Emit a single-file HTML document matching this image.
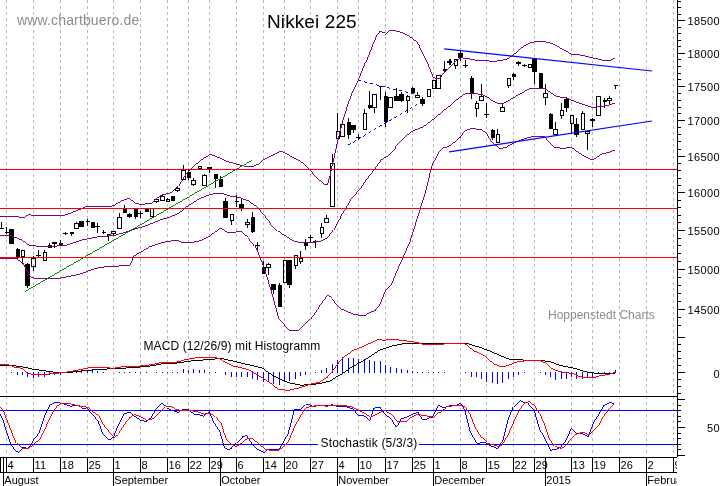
<!DOCTYPE html>
<html><head><meta charset="utf-8"><title>Nikkei 225</title>
<style>
html,body{margin:0;padding:0;background:#fff;}
svg{display:block;font-family:"Liberation Sans",sans-serif;}
</style></head>
<body>
<svg width="723" height="486" viewBox="0 0 723 486" shape-rendering="crispEdges">
<defs><clipPath id="dc"><rect x="0" y="456" width="677" height="30"/></clipPath></defs>
<rect x="0" y="0" width="723" height="486" fill="#fff"/>
<line x1="6.5" y1="0" x2="6.5" y2="456" stroke="#b8b8b8" stroke-width="1" stroke-dasharray="3,3"/>
<line x1="33.5" y1="0" x2="33.5" y2="456" stroke="#b8b8b8" stroke-width="1" stroke-dasharray="3,3"/>
<line x1="60.5" y1="0" x2="60.5" y2="456" stroke="#b8b8b8" stroke-width="1" stroke-dasharray="3,3"/>
<line x1="87.5" y1="0" x2="87.5" y2="456" stroke="#b8b8b8" stroke-width="1" stroke-dasharray="3,3"/>
<line x1="113.5" y1="0" x2="113.5" y2="456" stroke="#b8b8b8" stroke-width="1" stroke-dasharray="3,3"/>
<line x1="140.5" y1="0" x2="140.5" y2="456" stroke="#b8b8b8" stroke-width="1" stroke-dasharray="3,3"/>
<line x1="167.5" y1="0" x2="167.5" y2="456" stroke="#b8b8b8" stroke-width="1" stroke-dasharray="3,3"/>
<line x1="188.5" y1="0" x2="188.5" y2="456" stroke="#b8b8b8" stroke-width="1" stroke-dasharray="3,3"/>
<line x1="209.5" y1="0" x2="209.5" y2="456" stroke="#b8b8b8" stroke-width="1" stroke-dasharray="3,3"/>
<line x1="236.5" y1="0" x2="236.5" y2="456" stroke="#b8b8b8" stroke-width="1" stroke-dasharray="3,3"/>
<line x1="263.5" y1="0" x2="263.5" y2="456" stroke="#b8b8b8" stroke-width="1" stroke-dasharray="3,3"/>
<line x1="284.5" y1="0" x2="284.5" y2="456" stroke="#b8b8b8" stroke-width="1" stroke-dasharray="3,3"/>
<line x1="310.5" y1="0" x2="310.5" y2="456" stroke="#b8b8b8" stroke-width="1" stroke-dasharray="3,3"/>
<line x1="337.5" y1="0" x2="337.5" y2="456" stroke="#b8b8b8" stroke-width="1" stroke-dasharray="3,3"/>
<line x1="358.5" y1="0" x2="358.5" y2="456" stroke="#b8b8b8" stroke-width="1" stroke-dasharray="3,3"/>
<line x1="385.5" y1="0" x2="385.5" y2="456" stroke="#b8b8b8" stroke-width="1" stroke-dasharray="3,3"/>
<line x1="412.5" y1="0" x2="412.5" y2="456" stroke="#b8b8b8" stroke-width="1" stroke-dasharray="3,3"/>
<line x1="433.5" y1="0" x2="433.5" y2="456" stroke="#b8b8b8" stroke-width="1" stroke-dasharray="3,3"/>
<line x1="460.5" y1="0" x2="460.5" y2="456" stroke="#b8b8b8" stroke-width="1" stroke-dasharray="3,3"/>
<line x1="486.5" y1="0" x2="486.5" y2="456" stroke="#b8b8b8" stroke-width="1" stroke-dasharray="3,3"/>
<line x1="513.5" y1="0" x2="513.5" y2="456" stroke="#b8b8b8" stroke-width="1" stroke-dasharray="3,3"/>
<line x1="534.5" y1="0" x2="534.5" y2="456" stroke="#b8b8b8" stroke-width="1" stroke-dasharray="3,3"/>
<line x1="571.5" y1="0" x2="571.5" y2="456" stroke="#b8b8b8" stroke-width="1" stroke-dasharray="3,3"/>
<line x1="592.5" y1="0" x2="592.5" y2="456" stroke="#b8b8b8" stroke-width="1" stroke-dasharray="3,3"/>
<line x1="619.5" y1="0" x2="619.5" y2="456" stroke="#b8b8b8" stroke-width="1" stroke-dasharray="3,3"/>
<line x1="646.5" y1="0" x2="646.5" y2="456" stroke="#b8b8b8" stroke-width="1" stroke-dasharray="3,3"/>
<line x1="673.5" y1="0" x2="673.5" y2="456" stroke="#b8b8b8" stroke-width="1" stroke-dasharray="3,3"/>
<rect x="1" y="222" width="1" height="7" fill="#000"/>
<rect x="0" y="228" width="4" height="1" fill="#000"/>
<rect x="6" y="227" width="1" height="7" fill="#000"/>
<rect x="5" y="232" width="4" height="1" fill="#000"/>
<rect x="11" y="229" width="1" height="15" fill="#000"/>
<rect x="9" y="229" width="5" height="15" fill="#000"/>
<rect x="17" y="248" width="1" height="12" fill="#000"/>
<rect x="16" y="249" width="4" height="8" fill="#000"/>
<rect x="22" y="257" width="1" height="7" fill="#000"/>
<rect x="21.5" y="250.5" width="3" height="6" fill="none" stroke="#000" stroke-width="1"/>
<rect x="27" y="263" width="1" height="25" fill="#000"/>
<rect x="25" y="264" width="5" height="22" fill="#000"/>
<rect x="33" y="256" width="1" height="2" fill="#000"/>
<rect x="33" y="267" width="1" height="4" fill="#000"/>
<rect x="31.5" y="258.5" width="4" height="8" fill="none" stroke="#000" stroke-width="1"/>
<rect x="38" y="250" width="1" height="7" fill="#000"/>
<rect x="36" y="255" width="5" height="1" fill="#000"/>
<rect x="44" y="250" width="1" height="2" fill="#000"/>
<rect x="43.5" y="252.5" width="3" height="8" fill="none" stroke="#000" stroke-width="1"/>
<rect x="49" y="243" width="1" height="2" fill="#000"/>
<rect x="48.5" y="245.5" width="3" height="2" fill="none" stroke="#000" stroke-width="1"/>
<rect x="54" y="242" width="1" height="6" fill="#000"/>
<rect x="52" y="242" width="5" height="2" fill="#000"/>
<rect x="60" y="240" width="1" height="5" fill="#000"/>
<rect x="59" y="243" width="4" height="2" fill="#000"/>
<rect x="65" y="232" width="1" height="3" fill="#000"/>
<rect x="63" y="233" width="5" height="1" fill="#000"/>
<rect x="71" y="232" width="1" height="4" fill="#000"/>
<rect x="70" y="232" width="4" height="2" fill="#000"/>
<rect x="76" y="222" width="1" height="1" fill="#000"/>
<rect x="74.5" y="223.5" width="4" height="5" fill="none" stroke="#000" stroke-width="1"/>
<rect x="81" y="221" width="1" height="6" fill="#000"/>
<rect x="79" y="221" width="5" height="6" fill="#000"/>
<rect x="87" y="219" width="1" height="7" fill="#000"/>
<rect x="86" y="221" width="4" height="1" fill="#000"/>
<rect x="92" y="222" width="1" height="6" fill="#000"/>
<rect x="91" y="222" width="4" height="6" fill="#000"/>
<rect x="97" y="223" width="1" height="10" fill="#000"/>
<rect x="95" y="226" width="5" height="1" fill="#000"/>
<rect x="103" y="230" width="1" height="4" fill="#000"/>
<rect x="102" y="232" width="4" height="1" fill="#000"/>
<rect x="108" y="234" width="1" height="7" fill="#000"/>
<rect x="107" y="234" width="4" height="2" fill="#000"/>
<rect x="113" y="234" width="1" height="2" fill="#000"/>
<rect x="111.5" y="231.5" width="4" height="2" fill="none" stroke="#000" stroke-width="1"/>
<rect x="119" y="213" width="1" height="4" fill="#000"/>
<rect x="117.5" y="217.5" width="4" height="11" fill="none" stroke="#000" stroke-width="1"/>
<rect x="124" y="205" width="1" height="8" fill="#000"/>
<rect x="123" y="209" width="4" height="4" fill="#000"/>
<rect x="129" y="213" width="1" height="5" fill="#000"/>
<rect x="127" y="214" width="5" height="3" fill="#000"/>
<rect x="135" y="209" width="1" height="10" fill="#000"/>
<rect x="134" y="209" width="4" height="8" fill="#000"/>
<rect x="140" y="211" width="1" height="7" fill="#000"/>
<rect x="138" y="213" width="5" height="1" fill="#000"/>
<rect x="146" y="209" width="1" height="3" fill="#000"/>
<rect x="145" y="209" width="4" height="3" fill="#000"/>
<rect x="150.5" y="208.5" width="3" height="8" fill="none" stroke="#000" stroke-width="1"/>
<rect x="156" y="198" width="1" height="1" fill="#000"/>
<rect x="156" y="202" width="1" height="1" fill="#000"/>
<rect x="154.5" y="199.5" width="4" height="2" fill="none" stroke="#000" stroke-width="1"/>
<rect x="162" y="194" width="1" height="2" fill="#000"/>
<rect x="160.5" y="196.5" width="4" height="4" fill="none" stroke="#000" stroke-width="1"/>
<rect x="167" y="198" width="1" height="1" fill="#000"/>
<rect x="166.5" y="199.5" width="3" height="2" fill="none" stroke="#000" stroke-width="1"/>
<rect x="172" y="196" width="1" height="5" fill="#000"/>
<rect x="171" y="196" width="4" height="5" fill="#000"/>
<rect x="177" y="187" width="1" height="1" fill="#000"/>
<rect x="177" y="191" width="1" height="1" fill="#000"/>
<rect x="175.5" y="188.5" width="4" height="2" fill="none" stroke="#000" stroke-width="1"/>
<rect x="183" y="165" width="1" height="5" fill="#000"/>
<rect x="181.5" y="170.5" width="4" height="9" fill="none" stroke="#000" stroke-width="1"/>
<rect x="188" y="170" width="1" height="10" fill="#000"/>
<rect x="187" y="172" width="4" height="6" fill="#000"/>
<rect x="193" y="178" width="1" height="2" fill="#000"/>
<rect x="193" y="185" width="1" height="1" fill="#000"/>
<rect x="191.5" y="180.5" width="4" height="4" fill="none" stroke="#000" stroke-width="1"/>
<rect x="198.5" y="166.5" width="3" height="2" fill="none" stroke="#000" stroke-width="1"/>
<rect x="204" y="174" width="1" height="1" fill="#000"/>
<rect x="202.5" y="175.5" width="4" height="10" fill="none" stroke="#000" stroke-width="1"/>
<rect x="209" y="167" width="1" height="6" fill="#000"/>
<rect x="207" y="167" width="5" height="2" fill="#000"/>
<rect x="215" y="174" width="1" height="14" fill="#000"/>
<rect x="214" y="174" width="4" height="5" fill="#000"/>
<rect x="220" y="176" width="1" height="11" fill="#000"/>
<rect x="219" y="179" width="4" height="8" fill="#000"/>
<rect x="225" y="198" width="1" height="20" fill="#000"/>
<rect x="223" y="201" width="5" height="17" fill="#000"/>
<rect x="231" y="221" width="1" height="4" fill="#000"/>
<rect x="230.5" y="214.5" width="3" height="6" fill="none" stroke="#000" stroke-width="1"/>
<rect x="236" y="195" width="1" height="12" fill="#000"/>
<rect x="235" y="201" width="4" height="1" fill="#000"/>
<rect x="241" y="199" width="1" height="12" fill="#000"/>
<rect x="239" y="204" width="5" height="5" fill="#000"/>
<rect x="247" y="219" width="1" height="3" fill="#000"/>
<rect x="247" y="225" width="1" height="3" fill="#000"/>
<rect x="245.5" y="222.5" width="4" height="2" fill="none" stroke="#000" stroke-width="1"/>
<rect x="252" y="212" width="1" height="21" fill="#000"/>
<rect x="251" y="217" width="4" height="15" fill="#000"/>
<rect x="257" y="242" width="1" height="8" fill="#000"/>
<rect x="255" y="245" width="5" height="1" fill="#000"/>
<rect x="263" y="261" width="1" height="13" fill="#000"/>
<rect x="262" y="267" width="4" height="7" fill="#000"/>
<rect x="268" y="263" width="1" height="1" fill="#000"/>
<rect x="268" y="268" width="1" height="7" fill="#000"/>
<rect x="266.5" y="264.5" width="4" height="3" fill="none" stroke="#000" stroke-width="1"/>
<rect x="273" y="284" width="1" height="10" fill="#000"/>
<rect x="271" y="284" width="5" height="6" fill="#000"/>
<rect x="279" y="283" width="1" height="24" fill="#000"/>
<rect x="278" y="285" width="4" height="22" fill="#000"/>
<rect x="283.5" y="260.5" width="3" height="22" fill="none" stroke="#000" stroke-width="1"/>
<rect x="289" y="260" width="1" height="28" fill="#000"/>
<rect x="287" y="260" width="5" height="25" fill="#000"/>
<rect x="295" y="266" width="1" height="3" fill="#000"/>
<rect x="294.5" y="255.5" width="3" height="10" fill="none" stroke="#000" stroke-width="1"/>
<rect x="300" y="251" width="1" height="7" fill="#000"/>
<rect x="300" y="262" width="1" height="2" fill="#000"/>
<rect x="299.5" y="258.5" width="3" height="3" fill="none" stroke="#000" stroke-width="1"/>
<rect x="305" y="239" width="1" height="11" fill="#000"/>
<rect x="304" y="242" width="4" height="4" fill="#000"/>
<rect x="310" y="235" width="1" height="8" fill="#000"/>
<rect x="308" y="237" width="5" height="1" fill="#000"/>
<rect x="315" y="240" width="1" height="8" fill="#000"/>
<rect x="313" y="241" width="5" height="1" fill="#000"/>
<rect x="321" y="223" width="1" height="4" fill="#000"/>
<rect x="321" y="234" width="1" height="4" fill="#000"/>
<rect x="320.5" y="227.5" width="3" height="6" fill="none" stroke="#000" stroke-width="1"/>
<rect x="326" y="215" width="1" height="3" fill="#000"/>
<rect x="324.5" y="218.5" width="4" height="4" fill="none" stroke="#000" stroke-width="1"/>
<rect x="332" y="154" width="1" height="9" fill="#000"/>
<rect x="330.5" y="163.5" width="4" height="43" fill="none" stroke="#000" stroke-width="1"/>
<rect x="337" y="113" width="1" height="18" fill="#000"/>
<rect x="336.5" y="131.5" width="3" height="7" fill="none" stroke="#000" stroke-width="1"/>
<rect x="342" y="120" width="1" height="4" fill="#000"/>
<rect x="340.5" y="124.5" width="4" height="12" fill="none" stroke="#000" stroke-width="1"/>
<rect x="348" y="118" width="1" height="21" fill="#000"/>
<rect x="347" y="122" width="4" height="13" fill="#000"/>
<rect x="353" y="125" width="1" height="8" fill="#000"/>
<rect x="351" y="125" width="5" height="5" fill="#000"/>
<rect x="358" y="134" width="1" height="6" fill="#000"/>
<rect x="356" y="137" width="5" height="1" fill="#000"/>
<rect x="364" y="109" width="1" height="4" fill="#000"/>
<rect x="363.5" y="113.5" width="3" height="16" fill="none" stroke="#000" stroke-width="1"/>
<rect x="369" y="91" width="1" height="18" fill="#000"/>
<rect x="368" y="105" width="4" height="3" fill="#000"/>
<rect x="374" y="108" width="1" height="5" fill="#000"/>
<rect x="372.5" y="94.5" width="4" height="13" fill="none" stroke="#000" stroke-width="1"/>
<rect x="380" y="86" width="1" height="14" fill="#000"/>
<rect x="379" y="86" width="4" height="1" fill="#000"/>
<rect x="385" y="92" width="1" height="35" fill="#000"/>
<rect x="384" y="96" width="4" height="26" fill="#000"/>
<rect x="388.5" y="97.5" width="4" height="10" fill="none" stroke="#000" stroke-width="1"/>
<rect x="396" y="88" width="1" height="13" fill="#000"/>
<rect x="394" y="96" width="5" height="5" fill="#000"/>
<rect x="401" y="92" width="1" height="10" fill="#000"/>
<rect x="399" y="94" width="5" height="7" fill="#000"/>
<rect x="407" y="95" width="1" height="1" fill="#000"/>
<rect x="407" y="101" width="1" height="12" fill="#000"/>
<rect x="406.5" y="96.5" width="3" height="4" fill="none" stroke="#000" stroke-width="1"/>
<rect x="412" y="87" width="1" height="7" fill="#000"/>
<rect x="411" y="88" width="4" height="5" fill="#000"/>
<rect x="417" y="92" width="1" height="3" fill="#000"/>
<rect x="415.5" y="95.5" width="4" height="2" fill="none" stroke="#000" stroke-width="1"/>
<rect x="422" y="97" width="1" height="9" fill="#000"/>
<rect x="420" y="99" width="5" height="5" fill="#000"/>
<rect x="427.5" y="89.5" width="3" height="7" fill="none" stroke="#000" stroke-width="1"/>
<rect x="432.5" y="80.5" width="3" height="8" fill="none" stroke="#000" stroke-width="1"/>
<rect x="436.5" y="75.5" width="4" height="13" fill="none" stroke="#000" stroke-width="1"/>
<rect x="444" y="61" width="1" height="8" fill="#000"/>
<polygon points="443,69 448,69 448,70 445,72 444,72 443,70" fill="#000"/>
<rect x="449" y="59" width="2" height="6" fill="#000"/>
<rect x="447" y="61" width="5" height="2" fill="#000"/>
<rect x="455" y="66" width="1" height="3" fill="#000"/>
<rect x="454.5" y="59.5" width="3" height="6" fill="none" stroke="#000" stroke-width="1"/>
<rect x="460" y="51" width="1" height="10" fill="#000"/>
<rect x="458" y="53" width="5" height="5" fill="#000"/>
<rect x="465" y="60" width="1" height="8" fill="#000"/>
<rect x="463" y="65" width="5" height="1" fill="#000"/>
<rect x="471" y="76" width="1" height="23" fill="#000"/>
<rect x="470" y="78" width="4" height="15" fill="#000"/>
<rect x="476" y="101" width="1" height="2" fill="#000"/>
<rect x="476" y="109" width="1" height="8" fill="#000"/>
<rect x="475.5" y="103.5" width="3" height="5" fill="none" stroke="#000" stroke-width="1"/>
<rect x="481" y="84" width="1" height="12" fill="#000"/>
<rect x="479.5" y="96.5" width="4" height="4" fill="none" stroke="#000" stroke-width="1"/>
<rect x="486" y="103" width="1" height="15" fill="#000"/>
<rect x="484" y="114" width="5" height="1" fill="#000"/>
<rect x="492" y="129" width="1" height="11" fill="#000"/>
<rect x="491" y="130" width="4" height="8" fill="#000"/>
<rect x="497" y="129" width="1" height="5" fill="#000"/>
<rect x="496.5" y="134.5" width="3" height="8" fill="none" stroke="#000" stroke-width="1"/>
<rect x="502" y="103" width="1" height="4" fill="#000"/>
<rect x="500.5" y="107.5" width="4" height="4" fill="none" stroke="#000" stroke-width="1"/>
<rect x="508" y="86" width="1" height="2" fill="#000"/>
<rect x="507.5" y="78.5" width="3" height="7" fill="none" stroke="#000" stroke-width="1"/>
<rect x="513" y="73" width="1" height="7" fill="#000"/>
<rect x="512" y="74" width="4" height="3" fill="#000"/>
<rect x="518" y="61" width="1" height="5" fill="#000"/>
<rect x="516" y="62" width="5" height="2" fill="#000"/>
<rect x="524" y="64" width="1" height="3" fill="#000"/>
<rect x="522" y="65" width="5" height="1" fill="#000"/>
<rect x="528.5" y="64.5" width="3" height="3" fill="none" stroke="#000" stroke-width="1"/>
<rect x="534" y="59" width="1" height="25" fill="#000"/>
<rect x="532" y="59" width="5" height="13" fill="#000"/>
<rect x="540" y="73" width="1" height="16" fill="#000"/>
<rect x="539" y="73" width="4" height="16" fill="#000"/>
<rect x="545" y="84" width="1" height="9" fill="#000"/>
<rect x="545" y="98" width="1" height="7" fill="#000"/>
<rect x="543.5" y="93.5" width="4" height="4" fill="none" stroke="#000" stroke-width="1"/>
<rect x="550" y="113" width="1" height="16" fill="#000"/>
<rect x="549" y="114" width="4" height="15" fill="#000"/>
<rect x="555" y="122" width="1" height="7" fill="#000"/>
<rect x="553.5" y="129.5" width="4" height="5" fill="none" stroke="#000" stroke-width="1"/>
<rect x="561" y="103" width="1" height="7" fill="#000"/>
<rect x="561" y="116" width="1" height="3" fill="#000"/>
<rect x="560.5" y="110.5" width="3" height="5" fill="none" stroke="#000" stroke-width="1"/>
<rect x="566" y="97" width="1" height="15" fill="#000"/>
<rect x="564" y="99" width="5" height="9" fill="#000"/>
<rect x="571" y="124" width="1" height="9" fill="#000"/>
<rect x="570.5" y="115.5" width="3" height="8" fill="none" stroke="#000" stroke-width="1"/>
<rect x="576" y="118" width="1" height="19" fill="#000"/>
<rect x="574" y="124" width="5" height="11" fill="#000"/>
<rect x="582" y="111" width="1" height="2" fill="#000"/>
<rect x="581.5" y="113.5" width="3" height="16" fill="none" stroke="#000" stroke-width="1"/>
<rect x="587" y="134" width="1" height="16" fill="#000"/>
<rect x="585.5" y="131.5" width="4" height="2" fill="none" stroke="#000" stroke-width="1"/>
<rect x="592" y="118" width="1" height="9" fill="#000"/>
<rect x="590" y="119" width="5" height="2" fill="#000"/>
<rect x="596.5" y="96.5" width="4" height="19" fill="none" stroke="#000" stroke-width="1"/>
<rect x="604" y="98" width="1" height="10" fill="#000"/>
<rect x="603" y="100" width="4" height="2" fill="#000"/>
<rect x="609" y="96" width="1" height="2" fill="#000"/>
<rect x="609" y="101" width="1" height="3" fill="#000"/>
<rect x="607.5" y="98.5" width="4" height="2" fill="none" stroke="#000" stroke-width="1"/>
<rect x="615" y="85" width="1" height="4" fill="#000"/>
<rect x="614" y="85" width="4" height="1" fill="#000"/>
<polyline points="0.0,216.3 16.7,216.3 23.3,218.0 29.2,214.2 33.3,215.8 46.7,215.8 60.0,215.8 66.7,214.7 75.0,211.3 81.7,208.7 86.7,206.3 100.0,206.2 108.3,206.7 113.3,205.8 121.7,200.8 129.2,198.3 135.8,203.3 140.8,204.5 151.7,203.3 156.7,198.3 161.7,195.0 171.7,192.5 178.3,185.8 183.3,177.5 190.0,169.7 200.0,160.8 210.0,154.5 216.7,156.7 226.7,161.3 238.3,164.7 245.0,166.3 253.3,166.2 258.3,164.2 263.3,160.0 271.7,155.8 280.0,151.7 283.3,152.0 291.7,156.7 300.0,160.8 306.7,166.7 310.0,170.3 318.3,179.2 325.0,184.5 327.5,184.2 330.0,175.8 332.5,163.3 333.3,161.0 337.5,141.7 342.5,121.7 348.3,103.3 353.3,90.0 358.3,80.0 365.0,63.3 371.7,47.5 376.7,35.8 380.0,31.3 382.5,32.0 385.3,34.2 390.0,30.3 393.3,30.3 401.7,32.5 410.0,36.7 416.7,41.7 419.2,45.8 421.7,51.7 428.3,65.0 433.3,77.5 437.5,78.7 440.0,77.8 446.7,70.0 453.3,63.3 460.0,57.8 466.7,58.3 475.0,60.0 483.3,60.5 491.7,61.3 500.0,60.8 506.7,59.2 513.3,55.0 521.7,47.5 530.0,43.0 536.7,41.3 548.3,42.2 555.0,45.0 563.3,49.7 571.7,54.2 580.0,55.0 590.0,57.2 598.3,59.2 605.0,60.8 610.0,60.5 615.0,58.3" fill="none" stroke="#800080" stroke-width="0.99"/>
<polyline points="0.0,235.8 10.0,235.3 21.7,240.0 29.2,245.3 46.7,247.0 66.7,245.0 83.3,239.7 100.0,236.3 113.3,235.8 121.7,233.3 130.0,230.8 140.0,227.5 150.0,224.2 160.0,220.0 170.0,217.0 176.7,214.2 183.3,210.0 186.7,206.7 200.0,198.3 210.0,194.7 216.7,193.3 222.5,193.7 228.3,195.8 238.3,197.2 248.3,200.8 256.7,206.7 263.3,214.2 270.0,222.5 277.5,231.0 280.0,232.5 286.7,236.7 293.3,240.8 300.0,242.5 310.0,242.5 320.0,241.5 327.5,237.5 333.3,230.0 340.0,217.5 345.8,208.3 351.7,198.3 360.0,189.2 370.0,174.7 380.0,160.5 386.7,156.7 395.0,147.5 403.3,138.3 411.7,131.5 420.0,128.0 423.3,126.7 433.3,119.2 443.3,110.9 450.0,105.8 458.3,98.3 465.0,93.7 471.7,93.3 481.7,94.5 486.7,96.7 493.3,101.3 497.5,103.3 503.3,103.2 510.0,99.8 520.0,93.8 530.0,88.7 538.3,88.2 545.0,88.7 550.0,92.0 556.7,96.5 566.7,98.0 573.3,100.8 583.3,104.6 591.7,107.3 600.0,106.7 608.3,105.4 615.0,103.0" fill="none" stroke="#800080" stroke-width="0.99"/>
<polyline points="0.0,258.0 16.7,259.0 23.3,263.3 26.7,270.0 30.8,277.0 36.7,278.7 60.0,278.3 80.0,274.2 93.3,269.2 100.0,267.5 110.0,266.3 125.0,265.8 130.0,265.0 134.2,255.8 140.0,252.5 150.0,246.7 160.0,243.3 168.3,241.2 178.3,240.5 181.7,242.2 193.3,242.2 200.0,240.8 210.0,235.8 220.8,228.0 227.5,232.5 235.8,232.0 241.7,231.7 248.3,237.5 255.0,245.8 260.0,256.7 266.7,275.8 273.3,298.3 278.7,318.3 289.2,330.3 298.3,330.3 300.8,328.7 310.0,319.2 318.3,307.5 327.5,295.3 331.7,298.7 336.7,304.7 341.7,309.2 346.7,311.3 353.3,314.2 360.0,315.3 365.0,315.3 370.0,312.5 375.0,310.8 380.0,304.2 385.0,291.7 391.7,283.7 396.7,271.7 403.3,256.7 410.0,241.7 425.8,191.0 430.0,173.3 433.3,161.7 438.3,152.5 443.3,148.0 448.3,146.7 455.0,141.7 460.0,137.5 465.0,130.8 470.8,128.5 481.7,129.5 487.5,134.5 493.3,143.2 499.2,148.2 505.0,147.9 513.3,143.3 523.3,139.2 531.7,136.7 545.0,136.7 548.3,141.7 555.0,147.5 563.3,148.3 571.7,147.5 578.3,152.5 585.0,156.7 590.8,159.5 594.2,159.2 601.7,154.2 608.3,152.5 615.0,150.0" fill="none" stroke="#800080" stroke-width="0.99"/>
<line x1="24.7" y1="291.7" x2="252" y2="160.3" stroke="#008c00" stroke-width="0.99"/>
<line x1="358.3" y1="80.3" x2="416.5" y2="94.7" stroke="#0000ff" stroke-width="0.99" stroke-dasharray="3,3"/>
<line x1="348" y1="145.3" x2="417" y2="104.3" stroke="#0000ff" stroke-width="0.99" stroke-dasharray="3,3"/>
<line x1="444.2" y1="48.8" x2="652" y2="71" stroke="#0000ff" stroke-width="1.25" shape-rendering="geometricPrecision"/>
<line x1="449.2" y1="151.8" x2="652" y2="121" stroke="#0000ff" stroke-width="1.25" shape-rendering="geometricPrecision"/>
<rect x="0" y="169" width="677" height="1" fill="#ff0000"/>
<rect x="0" y="208" width="677" height="1" fill="#ff0000"/>
<rect x="0" y="257" width="677" height="1" fill="#ff0000"/>
<rect x="11" y="372" width="1" height="1" fill="#0000ff"/>
<rect x="17" y="372" width="1" height="3" fill="#0000ff"/>
<rect x="22" y="372" width="1" height="3" fill="#0000ff"/>
<rect x="27" y="372" width="1" height="5" fill="#0000ff"/>
<rect x="33" y="372" width="1" height="6" fill="#0000ff"/>
<rect x="38" y="372" width="1" height="5" fill="#0000ff"/>
<rect x="44" y="372" width="1" height="5" fill="#0000ff"/>
<rect x="49" y="372" width="1" height="3" fill="#0000ff"/>
<rect x="54" y="372" width="1" height="3" fill="#0000ff"/>
<rect x="60" y="372" width="1" height="3" fill="#0000ff"/>
<rect x="71" y="371" width="1" height="2" fill="#0000ff"/>
<rect x="76" y="370" width="1" height="3" fill="#0000ff"/>
<rect x="81" y="370" width="1" height="3" fill="#0000ff"/>
<rect x="87" y="370" width="1" height="3" fill="#0000ff"/>
<rect x="92" y="370" width="1" height="3" fill="#0000ff"/>
<rect x="97" y="371" width="1" height="2" fill="#0000ff"/>
<rect x="103" y="372" width="1" height="1" fill="#0000ff"/>
<rect x="119" y="372" width="1" height="1" fill="#0000ff"/>
<rect x="124" y="372" width="1" height="1" fill="#0000ff"/>
<rect x="129" y="372" width="1" height="1" fill="#0000ff"/>
<rect x="135" y="372" width="1" height="1" fill="#0000ff"/>
<rect x="140" y="372" width="1" height="1" fill="#0000ff"/>
<rect x="146" y="372" width="1" height="1" fill="#0000ff"/>
<rect x="156" y="372" width="1" height="1" fill="#0000ff"/>
<rect x="162" y="372" width="1" height="1" fill="#0000ff"/>
<rect x="167" y="372" width="1" height="1" fill="#0000ff"/>
<rect x="172" y="372" width="1" height="1" fill="#0000ff"/>
<rect x="177" y="372" width="1" height="1" fill="#0000ff"/>
<rect x="183" y="369" width="1" height="4" fill="#0000ff"/>
<rect x="188" y="370" width="1" height="3" fill="#0000ff"/>
<rect x="193" y="369" width="1" height="4" fill="#0000ff"/>
<rect x="199" y="370" width="1" height="3" fill="#0000ff"/>
<rect x="204" y="370" width="1" height="3" fill="#0000ff"/>
<rect x="209" y="372" width="1" height="1" fill="#0000ff"/>
<rect x="215" y="372" width="1" height="1" fill="#0000ff"/>
<rect x="225" y="372" width="1" height="3" fill="#0000ff"/>
<rect x="231" y="372" width="1" height="5" fill="#0000ff"/>
<rect x="236" y="372" width="1" height="5" fill="#0000ff"/>
<rect x="241" y="372" width="1" height="5" fill="#0000ff"/>
<rect x="247" y="372" width="1" height="5" fill="#0000ff"/>
<rect x="252" y="372" width="1" height="7" fill="#0000ff"/>
<rect x="257" y="372" width="1" height="8" fill="#0000ff"/>
<rect x="263" y="372" width="1" height="10" fill="#0000ff"/>
<rect x="268" y="372" width="1" height="10" fill="#0000ff"/>
<rect x="273" y="372" width="1" height="12" fill="#0000ff"/>
<rect x="279" y="372" width="1" height="13" fill="#0000ff"/>
<rect x="284" y="372" width="1" height="9" fill="#0000ff"/>
<rect x="289" y="372" width="1" height="9" fill="#0000ff"/>
<rect x="295" y="372" width="1" height="7" fill="#0000ff"/>
<rect x="300" y="372" width="1" height="4" fill="#0000ff"/>
<rect x="305" y="372" width="1" height="3" fill="#0000ff"/>
<rect x="315" y="372" width="1" height="1" fill="#0000ff"/>
<rect x="321" y="370" width="1" height="3" fill="#0000ff"/>
<rect x="326" y="368" width="1" height="5" fill="#0000ff"/>
<rect x="332" y="364" width="1" height="9" fill="#0000ff"/>
<rect x="337" y="360" width="1" height="13" fill="#0000ff"/>
<rect x="342" y="357" width="1" height="16" fill="#0000ff"/>
<rect x="348" y="358" width="1" height="15" fill="#0000ff"/>
<rect x="353" y="358" width="1" height="15" fill="#0000ff"/>
<rect x="358" y="359" width="1" height="14" fill="#0000ff"/>
<rect x="364" y="359" width="1" height="14" fill="#0000ff"/>
<rect x="369" y="360" width="1" height="13" fill="#0000ff"/>
<rect x="374" y="361" width="1" height="12" fill="#0000ff"/>
<rect x="380" y="361" width="1" height="12" fill="#0000ff"/>
<rect x="385" y="365" width="1" height="8" fill="#0000ff"/>
<rect x="390" y="367" width="1" height="6" fill="#0000ff"/>
<rect x="396" y="368" width="1" height="5" fill="#0000ff"/>
<rect x="401" y="369" width="1" height="4" fill="#0000ff"/>
<rect x="407" y="370" width="1" height="3" fill="#0000ff"/>
<rect x="412" y="371" width="1" height="2" fill="#0000ff"/>
<rect x="417" y="372" width="1" height="1" fill="#0000ff"/>
<rect x="422" y="372" width="1" height="1" fill="#0000ff"/>
<rect x="428" y="372" width="1" height="1" fill="#0000ff"/>
<rect x="433" y="372" width="1" height="1" fill="#0000ff"/>
<rect x="438" y="372" width="1" height="1" fill="#0000ff"/>
<rect x="444" y="372" width="1" height="1" fill="#0000ff"/>
<rect x="465" y="372" width="1" height="1" fill="#0000ff"/>
<rect x="471" y="372" width="1" height="5" fill="#0000ff"/>
<rect x="476" y="372" width="1" height="5" fill="#0000ff"/>
<rect x="481" y="372" width="1" height="7" fill="#0000ff"/>
<rect x="486" y="372" width="1" height="10" fill="#0000ff"/>
<rect x="492" y="372" width="1" height="11" fill="#0000ff"/>
<rect x="497" y="372" width="1" height="12" fill="#0000ff"/>
<rect x="502" y="372" width="1" height="11" fill="#0000ff"/>
<rect x="508" y="372" width="1" height="7" fill="#0000ff"/>
<rect x="513" y="372" width="1" height="5" fill="#0000ff"/>
<rect x="518" y="372" width="1" height="3" fill="#0000ff"/>
<rect x="524" y="372" width="1" height="1" fill="#0000ff"/>
<rect x="540" y="372" width="1" height="1" fill="#0000ff"/>
<rect x="545" y="372" width="1" height="3" fill="#0000ff"/>
<rect x="550" y="372" width="1" height="5" fill="#0000ff"/>
<rect x="555" y="372" width="1" height="8" fill="#0000ff"/>
<rect x="561" y="372" width="1" height="7" fill="#0000ff"/>
<rect x="566" y="372" width="1" height="7" fill="#0000ff"/>
<rect x="571" y="372" width="1" height="5" fill="#0000ff"/>
<rect x="576" y="372" width="1" height="7" fill="#0000ff"/>
<rect x="582" y="372" width="1" height="7" fill="#0000ff"/>
<rect x="587" y="372" width="1" height="5" fill="#0000ff"/>
<rect x="592" y="372" width="1" height="5" fill="#0000ff"/>
<rect x="598" y="372" width="1" height="1" fill="#0000ff"/>
<rect x="604" y="372" width="1" height="1" fill="#0000ff"/>
<rect x="609" y="372" width="1" height="1" fill="#0000ff"/>
<rect x="615" y="370" width="1" height="3" fill="#0000ff"/>
<polyline points="0.0,365.1 8.3,365.1 16.6,366.1 24.9,367.2 33.2,369.2 41.5,370.3 49.8,371.9 60.2,372.3 68.5,372.3 78.8,371.3 89.2,370.3 99.6,369.2 114.1,368.8 128.6,367.8 141.1,366.9 150.0,366.1 160.7,364.0 177.3,363.0 191.9,360.9 208.5,359.5 220.9,358.4 235.4,361.6 250.0,365.1 262.4,368.2 272.8,375.5 283.2,380.6 290.7,383.1 301.1,385.2 311.5,384.4 321.9,383.1 330.2,381.1 338.5,375.5 348.8,368.8 359.2,363.0 369.6,356.8 380.0,349.9 390.3,346.4 402.8,343.9 420.0,343.1 441.5,343.7 447.7,343.3 466.4,343.3 478.8,347.0 491.3,351.6 507.9,358.9 518.3,359.9 541.1,360.4 550.7,362.0 561.1,365.7 571.5,367.8 581.9,370.7 590.2,372.8 602.6,373.4 615.0,373.0" fill="none" stroke="#000" stroke-width="0.99"/>
<polyline points="0.0,364.7 8.3,364.7 14.5,367.2 22.8,368.8 28.0,373.4 33.2,374.4 47.7,374.4 51.9,373.4 62.2,372.8 70.5,371.3 76.8,370.3 87.1,368.2 93.4,367.2 101.7,367.6 114.1,368.2 124.5,366.5 139.0,366.1 152.4,364.7 160.7,362.6 177.3,362.0 185.6,359.5 200.2,357.2 210.5,357.2 218.8,358.4 225.1,362.0 233.4,366.1 241.7,367.8 250.0,370.3 260.3,376.5 268.6,381.7 278.3,389.4 288.7,390.4 299.0,387.9 311.5,383.8 319.8,381.7 327.1,377.5 332.2,371.3 342.6,357.8 353.0,350.6 363.4,346.4 377.9,339.6 384.1,340.2 392.4,339.1 402.8,340.5 413.2,341.8 418.7,342.9 422.8,344.3 441.5,344.3 447.7,343.3 464.3,343.3 474.7,351.2 483.0,354.7 493.4,363.6 500.6,366.5 505.8,366.1 518.3,361.6 524.5,360.9 541.1,360.9 545.6,363.0 550.7,367.8 557.0,370.7 563.2,372.3 571.5,373.4 577.7,376.1 585.0,377.5 594.3,377.5 600.5,375.5 608.8,374.4 615.0,372.3" fill="none" stroke="#ff0000" stroke-width="0.99"/>
<rect x="142" y="339" width="177" height="14" fill="#fff"/>
<rect x="0" y="396" width="677" height="1" fill="#000"/>
<rect x="0" y="410" width="677" height="1" fill="#0000ff"/>
<rect x="0" y="444" width="677" height="1" fill="#0000ff"/>
<polyline points="0.0,414.1 3.3,420.7 6.6,432.3 10.8,444.0 14.1,448.9 18.3,452.6 23.2,447.3 27.4,448.4 30.7,444.8 34.0,439.0 39.0,433.2 41.5,425.7 44.8,415.7 49.8,405.0 54.8,402.5 58.1,402.5 63.9,404.1 71.4,406.3 75.5,405.0 82.2,408.3 87.1,407.9 91.3,413.3 97.9,420.7 102.9,434.0 108.7,440.1 113.5,437.3 118.3,424.9 124.1,414.1 129.9,412.1 134.9,416.6 140.7,420.2 145.7,421.6 150.7,418.2 155.6,409.9 161.5,403.3 167.3,408.3 173.1,410.8 178.0,412.4 183.0,409.6 188.8,409.6 193.8,414.1 199.6,414.6 203.8,416.6 209.3,411.3 213.7,422.4 219.5,430.7 222.7,441.5 225.0,447.8 227.0,449.3 230.8,448.9 235.8,443.1 242.4,436.5 246.6,435.7 251.5,443.1 258.2,449.8 263.5,452.3 267.3,449.4 270.6,449.8 278.9,449.8 282.2,444.0 288.0,434.0 291.4,421.6 294.4,409.9 300.5,409.9 305.5,404.6 308.8,404.6 312.9,406.3 322.9,405.3 327.9,405.8 332.0,404.6 338.3,406.6 346.6,407.0 353.2,409.1 358.2,415.4 364.0,415.7 369.8,420.7 374.0,408.3 379.8,407.0 385.6,414.9 390.6,418.2 396.4,427.4 401.4,418.7 407.2,417.1 413.0,414.1 418.0,412.4 422.1,419.1 425.4,419.6 432.9,416.6 438.7,405.0 443.9,407.9 450.0,405.8 456.6,405.0 460.7,403.0 464.9,410.8 469.9,430.7 476.5,443.1 485.6,442.8 491.5,446.5 497.3,449.4 503.1,439.8 508.0,419.9 513.0,407.4 519.7,400.5 524.6,402.5 528.0,402.5 533.8,409.1 539.6,429.0 545.4,439.8 550.4,450.3 556.0,449.2 560.0,447.8 565.8,440.6 571.2,428.7 576.6,433.5 582.4,433.5 588.2,436.5 594.0,421.6 599.0,414.1 603.9,405.3 609.8,402.5 614.4,403.6" fill="none" stroke="#0000ff" stroke-width="0.99"/>
<polyline points="0.0,407.0 3.3,410.3 6.6,419.1 11.6,431.5 16.6,443.1 23.2,448.9 28.2,448.9 33.2,444.8 39.8,439.0 45.6,427.4 53.1,411.6 57.3,405.8 61.4,403.3 68.0,403.3 76.3,405.3 83.0,406.6 88.0,407.4 92.9,411.6 98.8,415.7 103.7,424.9 109.5,432.3 113.5,437.0 118.3,434.0 124.1,424.9 129.9,417.4 134.9,414.6 139.9,416.2 146.5,420.2 152.3,419.1 158.1,414.1 165.6,406.6 170.6,406.3 175.6,409.1 181.4,410.8 189.7,410.3 196.3,411.6 204.6,414.1 209.6,413.3 215.4,416.6 221.2,423.2 224.7,434.8 227.0,439.8 230.8,444.0 236.6,446.5 241.6,443.1 247.4,438.5 252.4,438.5 259.0,444.0 264.8,448.9 270.6,450.3 278.9,450.3 285.6,444.8 290.5,436.5 295.5,424.9 301.3,414.9 305.5,407.9 310.5,406.3 319.6,405.3 327.1,406.3 332.9,405.0 338.3,405.8 344.9,405.8 351.6,406.6 358.2,410.3 364.9,413.3 370.7,417.4 378.1,413.3 384.8,410.4 392.2,414.9 397.2,421.6 406.3,421.2 412.2,416.6 418.0,414.1 422.9,415.7 429.6,416.2 433.7,417.4 439.5,412.0 446.4,407.0 453.3,405.8 459.9,405.3 464.9,406.6 469.9,414.1 475.7,428.2 481.5,437.8 487.3,443.5 493.1,444.5 498.1,446.5 502.2,444.8 508.0,434.8 513.9,421.6 519.7,409.1 524.6,403.3 529.6,401.6 534.6,405.8 540.4,414.9 545.4,426.5 549.7,438.5 555.0,446.2 561.6,448.4 566.6,444.8 571.6,437.8 576.6,434.0 583.2,432.3 589.0,434.8 594.0,429.9 599.0,424.9 603.9,415.7 608.9,409.1 614.4,404.1" fill="none" stroke="#ff0000" stroke-width="0.99"/>
<rect x="318" y="436" width="101" height="14" fill="#fff"/>
<rect x="677" y="0" width="1" height="457" fill="#000"/>
<rect x="678" y="325" width="3" height="1" fill="#000"/>
<rect x="678" y="317" width="3" height="1" fill="#000"/>
<rect x="678" y="309" width="7" height="1" fill="#000"/>
<rect x="678" y="301" width="3" height="1" fill="#000"/>
<rect x="678" y="293" width="3" height="1" fill="#000"/>
<rect x="678" y="285" width="3" height="1" fill="#000"/>
<rect x="678" y="277" width="3" height="1" fill="#000"/>
<rect x="678" y="269" width="7" height="1" fill="#000"/>
<rect x="678" y="261" width="3" height="1" fill="#000"/>
<rect x="678" y="253" width="3" height="1" fill="#000"/>
<rect x="678" y="245" width="3" height="1" fill="#000"/>
<rect x="678" y="238" width="3" height="1" fill="#000"/>
<rect x="678" y="230" width="7" height="1" fill="#000"/>
<rect x="678" y="222" width="3" height="1" fill="#000"/>
<rect x="678" y="215" width="3" height="1" fill="#000"/>
<rect x="678" y="207" width="3" height="1" fill="#000"/>
<rect x="678" y="200" width="3" height="1" fill="#000"/>
<rect x="678" y="192" width="7" height="1" fill="#000"/>
<rect x="678" y="185" width="3" height="1" fill="#000"/>
<rect x="678" y="178" width="3" height="1" fill="#000"/>
<rect x="678" y="170" width="3" height="1" fill="#000"/>
<rect x="678" y="163" width="3" height="1" fill="#000"/>
<rect x="678" y="156" width="7" height="1" fill="#000"/>
<rect x="678" y="149" width="3" height="1" fill="#000"/>
<rect x="678" y="141" width="3" height="1" fill="#000"/>
<rect x="678" y="134" width="3" height="1" fill="#000"/>
<rect x="678" y="127" width="3" height="1" fill="#000"/>
<rect x="678" y="120" width="7" height="1" fill="#000"/>
<rect x="678" y="113" width="3" height="1" fill="#000"/>
<rect x="678" y="107" width="3" height="1" fill="#000"/>
<rect x="678" y="100" width="3" height="1" fill="#000"/>
<rect x="678" y="93" width="3" height="1" fill="#000"/>
<rect x="678" y="86" width="7" height="1" fill="#000"/>
<rect x="678" y="79" width="3" height="1" fill="#000"/>
<rect x="678" y="73" width="3" height="1" fill="#000"/>
<rect x="678" y="66" width="3" height="1" fill="#000"/>
<rect x="678" y="59" width="3" height="1" fill="#000"/>
<rect x="678" y="53" width="7" height="1" fill="#000"/>
<rect x="678" y="46" width="3" height="1" fill="#000"/>
<rect x="678" y="40" width="3" height="1" fill="#000"/>
<rect x="678" y="33" width="3" height="1" fill="#000"/>
<rect x="678" y="27" width="3" height="1" fill="#000"/>
<rect x="678" y="20" width="7" height="1" fill="#000"/>
<rect x="678" y="14" width="3" height="1" fill="#000"/>
<rect x="678" y="7" width="3" height="1" fill="#000"/>
<rect x="678" y="1" width="3" height="1" fill="#000"/>
<rect x="678" y="337" width="7" height="1" fill="#000"/>
<rect x="678" y="344" width="3" height="1" fill="#000"/>
<rect x="678" y="351" width="3" height="1" fill="#000"/>
<rect x="678" y="358" width="3" height="1" fill="#000"/>
<rect x="678" y="365" width="3" height="1" fill="#000"/>
<rect x="678" y="372" width="7" height="1" fill="#000"/>
<rect x="678" y="379" width="3" height="1" fill="#000"/>
<rect x="678" y="386" width="3" height="1" fill="#000"/>
<rect x="678" y="393" width="3" height="1" fill="#000"/>
<rect x="678" y="455" width="7" height="1" fill="#000"/>
<rect x="678" y="449" width="3" height="1" fill="#000"/>
<rect x="678" y="444" width="3" height="1" fill="#000"/>
<rect x="678" y="438" width="3" height="1" fill="#000"/>
<rect x="678" y="433" width="3" height="1" fill="#000"/>
<rect x="678" y="427" width="7" height="1" fill="#000"/>
<rect x="678" y="421" width="3" height="1" fill="#000"/>
<rect x="678" y="416" width="3" height="1" fill="#000"/>
<rect x="678" y="410" width="3" height="1" fill="#000"/>
<rect x="678" y="405" width="3" height="1" fill="#000"/>
<rect x="678" y="399" width="7" height="1" fill="#000"/>
<g clip-path="url(#dc)">
<rect x="0" y="457" width="677" height="1" fill="#000"/>
<rect x="0" y="472" width="677" height="1" fill="#000"/>
<rect x="0" y="457" width="1" height="15" fill="#000"/>
<rect x="6" y="457" width="1" height="15" fill="#000"/>
<rect x="33" y="457" width="1" height="15" fill="#000"/>
<rect x="60" y="457" width="1" height="15" fill="#000"/>
<rect x="87" y="457" width="1" height="15" fill="#000"/>
<rect x="113" y="457" width="1" height="15" fill="#000"/>
<rect x="140" y="457" width="1" height="15" fill="#000"/>
<rect x="167" y="457" width="1" height="15" fill="#000"/>
<rect x="188" y="457" width="1" height="15" fill="#000"/>
<rect x="209" y="457" width="1" height="15" fill="#000"/>
<rect x="236" y="457" width="1" height="15" fill="#000"/>
<rect x="263" y="457" width="1" height="15" fill="#000"/>
<rect x="284" y="457" width="1" height="15" fill="#000"/>
<rect x="310" y="457" width="1" height="15" fill="#000"/>
<rect x="337" y="457" width="1" height="15" fill="#000"/>
<rect x="358" y="457" width="1" height="15" fill="#000"/>
<rect x="385" y="457" width="1" height="15" fill="#000"/>
<rect x="412" y="457" width="1" height="15" fill="#000"/>
<rect x="433" y="457" width="1" height="15" fill="#000"/>
<rect x="460" y="457" width="1" height="15" fill="#000"/>
<rect x="486" y="457" width="1" height="15" fill="#000"/>
<rect x="513" y="457" width="1" height="15" fill="#000"/>
<rect x="534" y="457" width="1" height="15" fill="#000"/>
<rect x="571" y="457" width="1" height="15" fill="#000"/>
<rect x="592" y="457" width="1" height="15" fill="#000"/>
<rect x="619" y="457" width="1" height="15" fill="#000"/>
<rect x="646" y="457" width="1" height="15" fill="#000"/>
<rect x="673" y="457" width="1" height="15" fill="#000"/>
<rect x="3" y="457" width="1" height="29" fill="#000"/>
<rect x="113" y="457" width="1" height="29" fill="#000"/>
<rect x="220" y="457" width="1" height="29" fill="#000"/>
<rect x="337" y="457" width="1" height="29" fill="#000"/>
<rect x="433" y="457" width="1" height="29" fill="#000"/>
<rect x="545" y="457" width="1" height="29" fill="#000"/>
<rect x="646" y="457" width="1" height="29" fill="#000"/>
</g>
<g style="filter:grayscale(1)">
<text x="17" y="25" font-size="14" text-anchor="start" fill="#8c8c8c" letter-spacing="0.15">www.chartbuero.de</text>
<text x="548" y="318.5" font-size="12" text-anchor="start" fill="#8c8c8c">Hoppenstedt Charts</text>
<text x="267" y="27.5" font-size="19" text-anchor="start" fill="#000" letter-spacing="0.1">Nikkei 225</text>
<text x="143.5" y="350" font-size="12" text-anchor="start" fill="#000" letter-spacing="0.1">MACD (12/26/9) mit Histogramm</text>
<text x="320.5" y="446.8" font-size="12" text-anchor="start" fill="#000" letter-spacing="0.2">Stochastik (5/3/3)</text>
<text x="720" y="314.0" font-size="11" text-anchor="end" fill="#000" letter-spacing="0.4">14500</text>
<text x="720" y="274.0" font-size="11" text-anchor="end" fill="#000" letter-spacing="0.4">15000</text>
<text x="720" y="235.0" font-size="11" text-anchor="end" fill="#000" letter-spacing="0.4">15500</text>
<text x="720" y="197.0" font-size="11" text-anchor="end" fill="#000" letter-spacing="0.4">16000</text>
<text x="720" y="161.0" font-size="11" text-anchor="end" fill="#000" letter-spacing="0.4">16500</text>
<text x="720" y="125.0" font-size="11" text-anchor="end" fill="#000" letter-spacing="0.4">17000</text>
<text x="720" y="91.0" font-size="11" text-anchor="end" fill="#000" letter-spacing="0.4">17500</text>
<text x="720" y="58.0" font-size="11" text-anchor="end" fill="#000" letter-spacing="0.4">18000</text>
<text x="720" y="25.0" font-size="11" text-anchor="end" fill="#000" letter-spacing="0.4">18500</text>
<text x="719.5" y="377.5" font-size="11" text-anchor="end" fill="#000">0</text>
<text x="720" y="432" font-size="11" text-anchor="end" fill="#000" letter-spacing="0.4">50</text>
<g clip-path="url(#dc)">
<text x="7.6" y="469" font-size="11" text-anchor="start" fill="#000">4</text>
<text x="34.6" y="469" font-size="11" text-anchor="start" fill="#000">11</text>
<text x="61.6" y="469" font-size="11" text-anchor="start" fill="#000">18</text>
<text x="88.6" y="469" font-size="11" text-anchor="start" fill="#000">25</text>
<text x="114.6" y="469" font-size="11" text-anchor="start" fill="#000">1</text>
<text x="141.6" y="469" font-size="11" text-anchor="start" fill="#000">8</text>
<text x="168.6" y="469" font-size="11" text-anchor="start" fill="#000">16</text>
<text x="189.6" y="469" font-size="11" text-anchor="start" fill="#000">22</text>
<text x="210.6" y="469" font-size="11" text-anchor="start" fill="#000">29</text>
<text x="237.6" y="469" font-size="11" text-anchor="start" fill="#000">6</text>
<text x="264.6" y="469" font-size="11" text-anchor="start" fill="#000">14</text>
<text x="285.6" y="469" font-size="11" text-anchor="start" fill="#000">20</text>
<text x="311.6" y="469" font-size="11" text-anchor="start" fill="#000">27</text>
<text x="338.6" y="469" font-size="11" text-anchor="start" fill="#000">4</text>
<text x="359.6" y="469" font-size="11" text-anchor="start" fill="#000">10</text>
<text x="386.6" y="469" font-size="11" text-anchor="start" fill="#000">17</text>
<text x="413.6" y="469" font-size="11" text-anchor="start" fill="#000">25</text>
<text x="434.6" y="469" font-size="11" text-anchor="start" fill="#000">1</text>
<text x="461.6" y="469" font-size="11" text-anchor="start" fill="#000">8</text>
<text x="487.6" y="469" font-size="11" text-anchor="start" fill="#000">15</text>
<text x="514.6" y="469" font-size="11" text-anchor="start" fill="#000">22</text>
<text x="535.6" y="469" font-size="11" text-anchor="start" fill="#000">29</text>
<text x="572.6" y="469" font-size="11" text-anchor="start" fill="#000">13</text>
<text x="593.6" y="469" font-size="11" text-anchor="start" fill="#000">19</text>
<text x="620.6" y="469" font-size="11" text-anchor="start" fill="#000">26</text>
<text x="647.6" y="469" font-size="11" text-anchor="start" fill="#000">2</text>
<text x="674.6" y="469" font-size="11" text-anchor="start" fill="#000">9</text>
<text x="4.3" y="483.5" font-size="11" text-anchor="start" fill="#000">August</text>
<text x="114.3" y="483.5" font-size="11" text-anchor="start" fill="#000">September</text>
<text x="221.3" y="483.5" font-size="11" text-anchor="start" fill="#000">October</text>
<text x="338.3" y="483.5" font-size="11" text-anchor="start" fill="#000">November</text>
<text x="434.3" y="483.5" font-size="11" text-anchor="start" fill="#000">December</text>
<text x="546.3" y="483.5" font-size="11" text-anchor="start" fill="#000">2015</text>
<text x="647.3" y="483.5" font-size="11" text-anchor="start" fill="#000">February</text>
</g>
</g>
</svg>
</body></html>
